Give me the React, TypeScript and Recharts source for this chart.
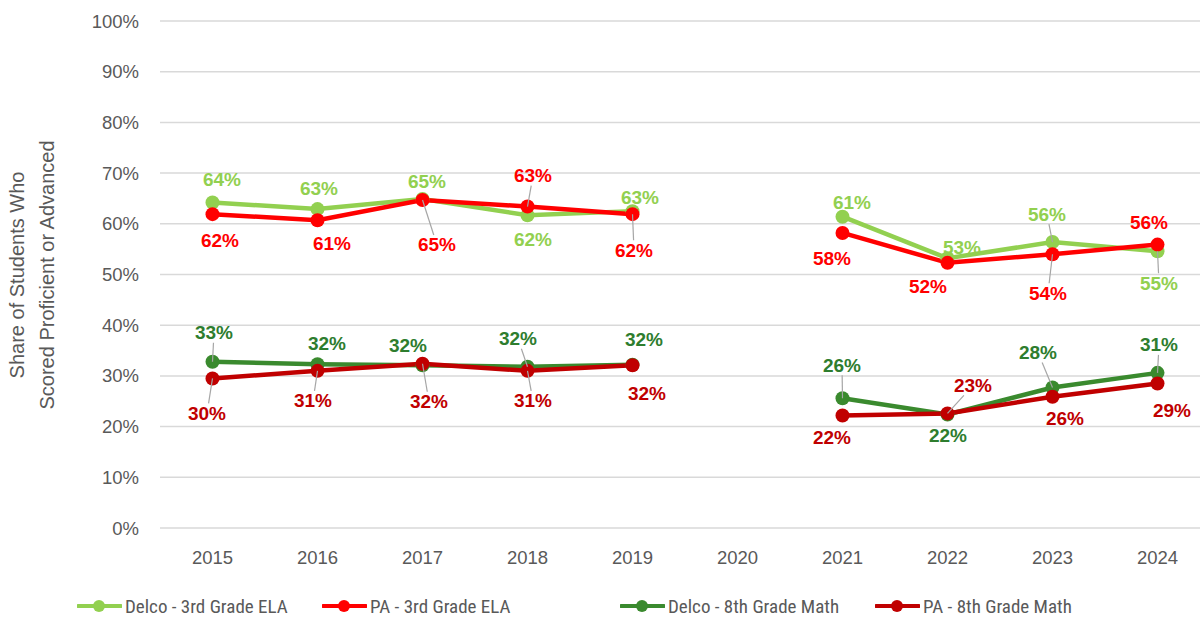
import React from "react";
import { LineChart, Line, XAxis, YAxis, CartesianGrid, LabelList, Legend } from "recharts";

const years = ["2015", "2016", "2017", "2018", "2019", "2020", "2021", "2022", "2023", "2024"];
const delcoEla = [64.2, 62.9, 64.9, 61.7, 62.5, null, 61.4, 53.2, 56.4, 54.6];
const paEla = [61.9, 60.7, 64.7, 63.4, 61.9, null, 58.2, 52.3, 54.0, 55.9];
const delcoMath = [32.8, 32.3, 32.1, 31.8, 32.2, null, 25.6, 22.4, 27.7, 30.6];
const paMath = [29.5, 31.0, 32.4, 31.0, 32.1, null, 22.2, 22.6, 25.9, 28.5];
const yTicks = [0, 10, 20, 30, 40, 50, 60, 70, 80, 90, 100];

const seriesNames = ["Delco - 3rd Grade ELA", "PA - 3rd Grade ELA", "Delco - 8th Grade Math", "PA - 8th Grade Math"];
const seriesKeys = ["delcoEla", "paEla", "delcoMath", "paMath"];
const lineColors = ["#92D050", "#FF0000", "#3A8A2E", "#C00000"];
const labelColors = ["#92D050", "#FF0000", "#2E7D2E", "#C00000"];

// label placement (dx, dy from point) and whether a leader line is drawn
const labelOffsets: (number[] | null)[][] = [
  [[9.5, -23], [1.5, -21], [4.5, -17], [5.5, 24], [7.5, -14], null, [9.5, -14], [14.5, -11], [-5.5, -28], [1.5, 32]],
  [[7.5, 26], [14.5, 23], [14.5, 45], [5.5, -31], [1.5, 36], null, [-10.5, 26], [-19.5, 24], [-4.5, 39], [-8.5, -22]],
  [[1.5, -29], [9.5, -21], [-14.5, -20], [-9.5, -28], [11.5, -25], null, [-0.5, -33], [0.5, 21], [-14.5, -35], [1.5, -28]],
  [[-5.5, 35], [-4.5, 30], [6.5, 38], [5.5, 30], [14.5, 28], null, [-10.5, 22], [25.5, -28], [12.5, 22], [14.5, 27]],
];
const leaders: boolean[][] = [
  [false, false, false, false, false, false, false, false, true, true],
  [false, false, true, true, true, false, false, false, true, false],
  [true, false, false, true, false, false, true, false, true, true],
  [true, true, true, true, false, false, false, true, false, false],
];

const data = years.map((y, i) => ({
  year: y,
  delcoEla: delcoEla[i],
  paEla: paEla[i],
  delcoMath: delcoMath[i],
  paMath: paMath[i],
}));

const makeLabel = (s: number) => (props: any) => {
  const { x, y, value, index } = props;
  if (value === null || value === undefined || x == null || y == null) return null;
  const off = labelOffsets[s][index];
  if (!off) return null;
  const lx = x + off[0];
  const ly = y + off[1];
  let leader = null;
  if (leaders[s][index]) {
    const vx = lx - x;
    const vy = ly - y;
    const hw = 20, hh = 10;
    const t = Math.min(Math.abs(vx) > 0 ? hw / Math.abs(vx) : 99, Math.abs(vy) > 0 ? hh / Math.abs(vy) : 99);
    const ex = lx - vx * t;
    const ey = ly - vy * t;
    leader = <line x1={x} y1={y} x2={ex} y2={ey} stroke="#A6A6A6" strokeWidth={1.2} />;
  }
  return (
    <g>
      {leader}
      <text
        x={lx}
        y={ly}
        textAnchor="middle"
        dominantBaseline="central"
        fill={labelColors[s]}
        fontSize={19}
        fontWeight="bold"
        fontFamily="'Liberation Sans', Arial, sans-serif"
      >
        {`${Math.round(value)}%`}
      </text>
    </g>
  );
};

const legendLeft = [77, 322, 620, 875];

const renderLegend = () => (
  <div style={{ position: "relative", width: 1200, height: 40 }}>
    {seriesNames.map((n, i) => (
      <div
        key={n}
        style={{ position: "absolute", left: legendLeft[i], top: 17, display: "flex", alignItems: "center", height: 22 }}
      >
        <svg width={45} height={14} style={{ display: "block" }}>
          <line x1={1} y1={7} x2={44} y2={7} stroke={lineColors[i]} strokeWidth={4} strokeLinecap="round" />
          <circle cx={22} cy={7} r={6} fill={lineColors[i]} />
        </svg>
        <span
          style={{
            marginLeft: 3,
            fontFamily: "'Liberation Sans Narrow', 'Arial Narrow', 'Roboto Condensed', sans-serif",
            fontSize: 19,
            color: "#595959",
            whiteSpace: "nowrap",
          }}
        >
          {n}
        </span>
      </div>
    ))}
  </div>
);

const YTitle = () => (
  <g fill="#595959" fontSize={20} fontFamily="'Liberation Sans', Arial, sans-serif">
    <text transform="translate(17,275) rotate(-90)" textAnchor="middle" dominantBaseline="central">
      Share of Students Who
    </text>
    <text transform="translate(47,275) rotate(-90)" textAnchor="middle" dominantBaseline="central">
      Scored Proficient or Advanced
    </text>
  </g>
);

export default function App() {
  return (
    <div style={{ position: "absolute", left: 0, top: 0, width: 1200, height: 618, overflow: "hidden", background: "#fff" }}>
      <LineChart width={1210} height={618} data={data} margin={{ top: 21, right: 0, left: 0, bottom: 0 }}>
        <CartesianGrid vertical={false} stroke="#D9D9D9" strokeWidth={1.5} />
        <XAxis
          dataKey="year"
          axisLine={false}
          tickLine={false}
          tickSize={0}
          tickMargin={23}
          height={50}
          padding={{ left: 52.5, right: 52.5 }}
          tick={{ fill: "#595959", fontSize: 18.5, fontFamily: "'Liberation Sans', Arial, sans-serif" }}
        />
        <YAxis
          domain={[0, 100]}
          ticks={yTicks}
          width={160}
          axisLine={false}
          tickLine={false}
          tickSize={0}
          tickMargin={21}
          interval={0}
          tickFormatter={(v: number) => `${v}%`}
          tick={{ fill: "#595959", fontSize: 18.5, fontFamily: "'Liberation Sans', Arial, sans-serif" }}
          label={<YTitle />}
        />
        <Legend verticalAlign="bottom" height={40} content={renderLegend} wrapperStyle={{ left: 0, bottom: 0, width: 1200 }} />
        {seriesKeys.map((k, s) => (
          <Line
            key={k}
            dataKey={k}
            name={seriesNames[s]}
            stroke={lineColors[s]}
            strokeWidth={4.5}
            dot={{ r: 7, fill: lineColors[s], stroke: "none" }}
            activeDot={false}
            connectNulls={false}
            isAnimationActive={false}
          >
            <LabelList dataKey={k} content={makeLabel(s)} />
          </Line>
        ))}
      </LineChart>
    </div>
  );
}
